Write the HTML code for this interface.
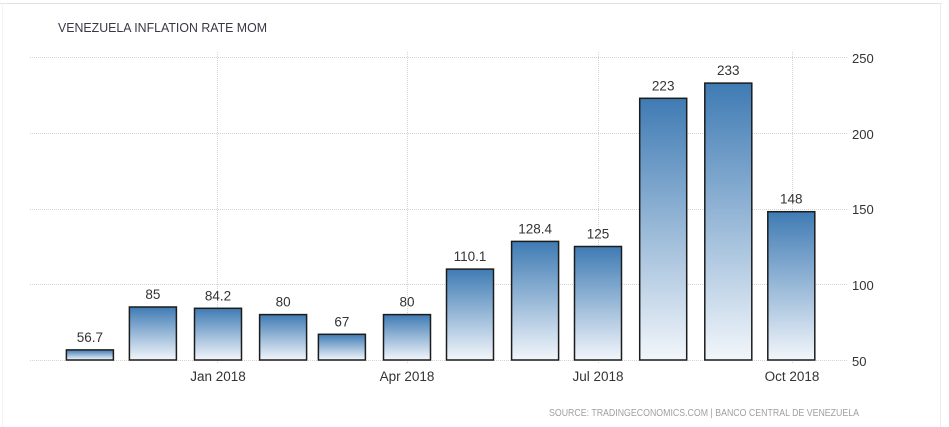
<!DOCTYPE html>
<html><head><meta charset="utf-8"><style>
html,body{margin:0;padding:0;background:#fff;}
svg{display:block;}
</style></head><body>
<svg width="949" height="427" viewBox="0 0 949 427" xmlns="http://www.w3.org/2000/svg" font-family="Liberation Sans, sans-serif">
<defs>
<linearGradient id="g" x1="0" y1="0" x2="0" y2="1">
<stop offset="0" stop-color="#3f7bb4"/>
<stop offset="1" stop-color="#f2f6fb"/>
</linearGradient>
</defs>
<rect x="0" y="0" width="949" height="427" fill="#fff"/>
<line x1="0" y1="3.5" x2="942" y2="3.5" stroke="#e2e2e2" stroke-width="1"/>
<line x1="940.5" y1="3" x2="940.5" y2="427" stroke="#ececec" stroke-width="1"/>
<line x1="2.5" y1="3" x2="2.5" y2="427" stroke="#f4f4f4" stroke-width="1"/>
<text x="58" y="32" font-size="13" fill="#3a3845" textLength="209" lengthAdjust="spacingAndGlyphs">VENEZUELA INFLATION RATE MOM</text>
<g stroke="#d4d4d4" stroke-width="1" stroke-dasharray="1,1">
<line x1="30" y1="57.5" x2="848" y2="57.5"/>
<line x1="30" y1="133.5" x2="848" y2="133.5"/>
<line x1="30" y1="209.5" x2="848" y2="209.5"/>
<line x1="30" y1="284.5" x2="848" y2="284.5"/>
<line x1="30" y1="360.5" x2="848" y2="360.5"/>
<line x1="217.5" y1="52" x2="217.5" y2="364"/>
<line x1="407.5" y1="52" x2="407.5" y2="364"/>
<line x1="598.5" y1="52" x2="598.5" y2="364"/>
<line x1="792.5" y1="52" x2="792.5" y2="364"/>
</g>
<g fill="url(#g)" stroke="#1c1c1c" stroke-width="1.5">
<rect x="66.4" y="349.9" width="47" height="10.1"/>
<rect x="129.4" y="307" width="47" height="53"/>
<rect x="194.5" y="308.3" width="47" height="51.7"/>
<rect x="259.6" y="314.6" width="47" height="45.4"/>
<rect x="318.4" y="334.3" width="47" height="25.7"/>
<rect x="383.5" y="314.6" width="47" height="45.4"/>
<rect x="446.5" y="269.1" width="47" height="90.9"/>
<rect x="511.6" y="241.4" width="47" height="118.6"/>
<rect x="574.5" y="246.5" width="47" height="113.5"/>
<rect x="639.7" y="98.3" width="47" height="261.7"/>
<rect x="704.8" y="83.1" width="47" height="276.9"/>
<rect x="767.8" y="211.7" width="47" height="148.3"/>
</g>
<g font-size="13.5" fill="#333" text-anchor="middle">
<text x="89.9" y="342">56.7</text>
<text x="152.9" y="299">85</text>
<text x="218" y="300.3">84.2</text>
<text x="283.1" y="306.6">80</text>
<text x="341.9" y="326.3">67</text>
<text x="407" y="306.6">80</text>
<text x="470" y="261.1">110.1</text>
<text x="535.1" y="233.4">128.4</text>
<text x="598" y="238.5">125</text>
<text x="663.2" y="90.3">223</text>
<text x="728.3" y="75.1">233</text>
<text x="791.3" y="203.7">148</text>
</g>
<g font-size="13.5" fill="#333" text-anchor="middle">
<text x="218" y="381">Jan 2018</text>
<text x="407" y="381">Apr 2018</text>
<text x="598" y="381">Jul 2018</text>
<text x="792" y="381">Oct 2018</text>
</g>
<g font-size="13" fill="#333">
<text x="852" y="63">250</text>
<text x="852" y="139">200</text>
<text x="852" y="214">150</text>
<text x="852" y="290">100</text>
<text x="852" y="366">50</text>
</g>
<text x="549" y="416" font-size="10" fill="#a0a0a0" textLength="310" lengthAdjust="spacingAndGlyphs">SOURCE: TRADINGECONOMICS.COM  |  BANCO CENTRAL DE VENEZUELA</text>
</svg>
</body></html>
